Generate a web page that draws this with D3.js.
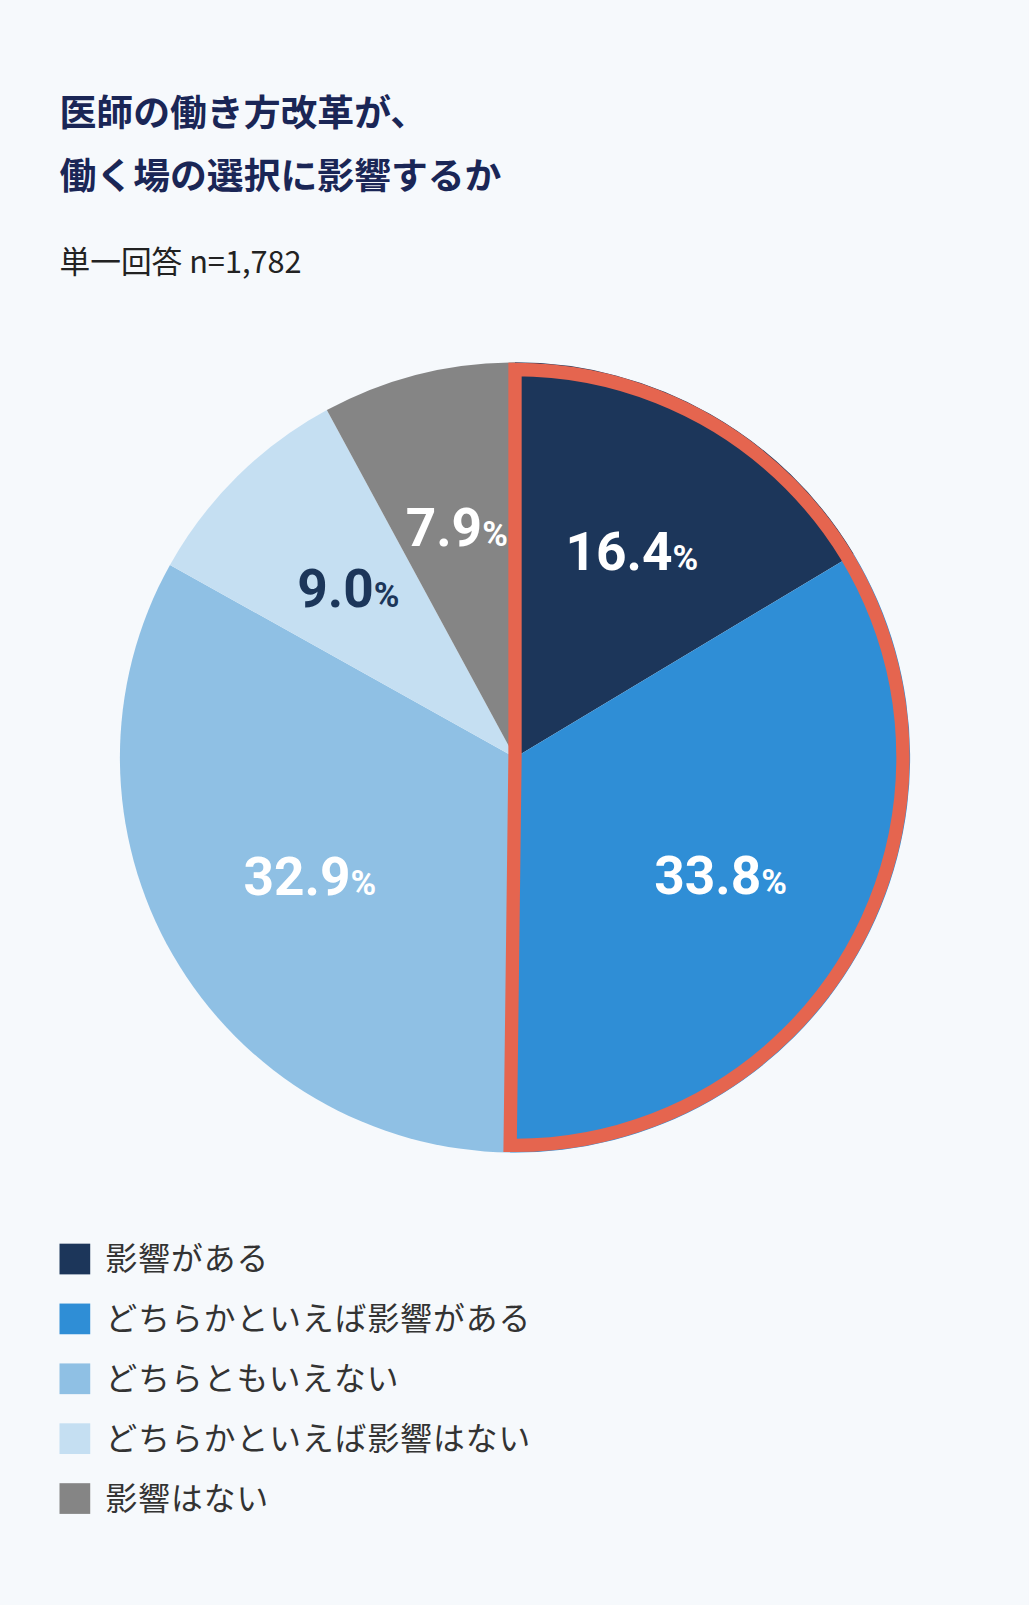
<!DOCTYPE html>
<html><head><meta charset="utf-8">
<script src="https://cdn.jsdelivr.net/npm/d3@7"></script>
<style>body{margin:0;background:#f6f9fc;}svg{display:block;font-family:"Noto Sans CJK JP","Noto Sans",sans-serif;}</style>
</head><body>
<script>
// chart data
var categories = ["影響がある", "どちらかといえば影響がある", "どちらともいえない", "どちらかといえば影響はない", "影響はない"];
var values = [16.4, 33.8, 32.9, 9.0, 7.9];
var colors = ["#1c365a", "#2f8ed6", "#8fc0e4", "#c5dff2", "#858585"];
var labelColors = ["#fff", "#fff", "#fff", "#1c365a", "#fff"];
var titleLines = ["医師の働き方改革が、", "働く場の選択に影響するか"];

var W = 1005, H = 1568;
var svg = d3.select("body").append("svg")
    .attr("width", 1029).attr("height", 1605)
    .attr("viewBox", "0 0 " + W + " " + H);
svg.append("rect").attr("width", W).attr("height", H).attr("fill", "#f6f9fc");

svg.selectAll("text.title").data(titleLines).enter().append("text")
    .attr("class", "title")
    .attr("x", 58).attr("y", function (d, i) { return 123 + i * 62; })
    .attr("font-size", 36).attr("font-weight", 700).attr("fill", "#1a2656")
    .text(function (d) { return d; });
svg.append("text").attr("x", 58).attr("y", 267)
    .attr("font-size", 30).attr("fill", "#222").text("単一回答  n=1,782");

var cx = 503, cy = 740, R = 386;
var g = svg.append("g").attr("transform", "translate(" + cx + "," + cy + ")");
var pie = d3.pie().sort(null).value(function (d) { return d; });
var arcs = pie(values);
var arc = d3.arc().innerRadius(0).outerRadius(R);
g.selectAll("path.slice").data(arcs).enter().append("path")
    .attr("class", "slice")
    .attr("d", arc)
    .attr("fill", function (d, i) { return colors[i]; });

// outline around the "affects" group (first two slices)
var grp = {startAngle: arcs[0].startAngle, endAngle: arcs[1].endAngle};
g.append("path")
    .attr("d", d3.arc().innerRadius(0).outerRadius(R - 7)(grp))
    .attr("fill", "none").attr("stroke", "#e5654f").attr("stroke-width", 13)
    .attr("stroke-linejoin", "miter");

var labelArc = d3.arc().innerRadius(R * 0.6).outerRadius(R * 0.6);
var lbl = g.selectAll("text.lbl").data(arcs).enter().append("text")
    .attr("class", "lbl")
    .attr("transform", function (d) { var c = labelArc.centroid(d); return "translate(" + c[0] + "," + (c[1] + 18) + ")"; })
    .attr("text-anchor", "middle").attr("font-weight", 700)
    .attr("font-family", "Roboto, 'Noto Sans', sans-serif")
    .attr("fill", function (d, i) { return labelColors[i]; });
lbl.append("tspan").attr("font-size", 52).text(function (d) { return d.data.toFixed(1); });
lbl.append("tspan").attr("font-size", 34).text("%");

var leg = svg.selectAll("g.leg").data(categories).enter().append("g")
    .attr("class", "leg")
    .attr("transform", function (d, i) { return "translate(58," + (1230 + i * 58.5) + ")"; });
leg.append("rect").attr("x", 0).attr("y", -15).attr("width", 30).attr("height", 30)
    .attr("fill", function (d, i) { return colors[i]; });
leg.append("text").attr("x", 45).attr("y", 11).attr("font-size", 31)
    .attr("fill", "#333").attr("letter-spacing", 1).text(function (d) { return d; });
</script>
</body></html>
